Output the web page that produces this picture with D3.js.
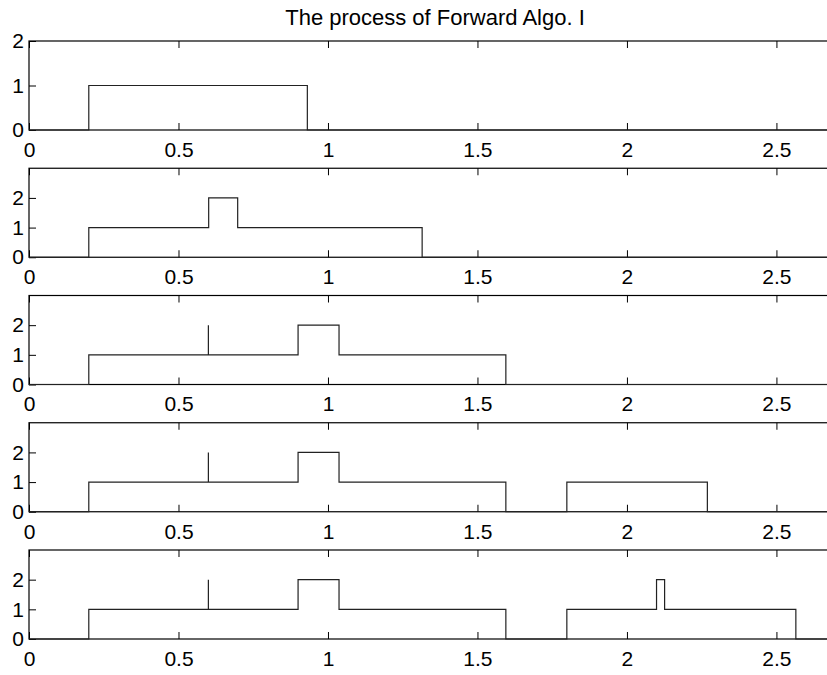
<!DOCTYPE html>
<html>
<head>
<meta charset="utf-8">
<script src="https://cdn.jsdelivr.net/npm/d3@7"></script>
<style>
  body { margin: 0; background: #fff; }
  svg { display: block; overflow: hidden; }
  text { font-family: "Liberation Sans", Arial, sans-serif; fill: #000; }
</style>
</head>
<body>
<div id="chart"></div>
<script>
// chart text and ticks
const titleText = "The process of Forward Algo. I";
const xTicks = [0, 0.5, 1, 1.5, 2, 2.5];
const xMax = 2.716;
const yMaxes = [2, 3, 3, 3, 3];
const yTicks = [[0, 1, 2], [0, 1, 2], [0, 1, 2], [0, 1, 2], [0, 1, 2]];

// step breakpoints (x where level starts) and levels for each subplot
const edges1 = [0, 0.2, 0.931, 2.716];
const levels1 = [0, 1, 0, 0];
const edges2 = [0, 0.2, 0.601, 0.698, 1.315, 2.716];
const levels2 = [0, 1, 2, 1, 0, 0];
const edges3 = [0, 0.2, 0.6, 0.6, 0.9, 1.037, 1.595, 2.716];
const levels3 = [0, 1, 2, 1, 2, 1, 0, 0];
const edges4 = [0, 0.2, 0.6, 0.6, 0.9, 1.037, 1.595, 1.799, 2.269, 2.716];
const levels4 = [0, 1, 2, 1, 2, 1, 0, 1, 0, 0];
const edges5 = [0, 0.2, 0.6, 0.6, 0.9, 1.037, 1.595, 1.799, 2.099, 2.126, 2.565, 2.716];
const levels5 = [0, 1, 2, 1, 2, 1, 0, 1, 2, 1, 0, 0];

const allEdges = [edges1, edges2, edges3, edges4, edges5];
const allLevels = [levels1, levels2, levels3, levels4, levels5];

// layout
const W = 827, H = 675;
const left = 29, right = 841;
const firstTop = 41, step = 127.25, panelH = 89;
const tickLen = 7;

const svg = d3.select("#chart")
    .append("svg")
    .attr("width", W)
    .attr("height", H);

const x = d3.scaleLinear()
    .domain([0, xMax])
    .range([left, right]);

// title
svg.append("text")
    .attr("x", (left + right) / 2)
    .attr("y", 25)
    .attr("text-anchor", "middle")
    .style("font-size", "22px")
    .text(titleText);

allEdges.forEach(function (edges, i) {
    const top = firstTop + i * step;
    const y = d3.scaleLinear()
        .domain([0, yMaxes[i]])
        .range([top + panelH, top]);

    const g = svg.append("g");

    // axes box
    g.append("rect")
        .attr("x", left)
        .attr("y", top)
        .attr("width", right - left)
        .attr("height", panelH)
        .attr("fill", "none")
        .attr("stroke", "#000")
        .attr("stroke-width", 1.2);

    // bottom axis (inward ticks + labels)
    const xb = g.append("g")
        .attr("transform", `translate(0, ${top + panelH})`)
        .call(d3.axisBottom(x).tickValues(xTicks).tickSizeInner(-tickLen).tickSizeOuter(0).tickPadding(12)
            .tickFormat(d3.format("")));
    // top axis ticks
    const xt = g.append("g")
        .attr("transform", `translate(0, ${top})`)
        .call(d3.axisTop(x).tickValues(xTicks).tickSizeInner(-tickLen).tickSizeOuter(0).tickFormat(""));
    // left axis
    const yl = g.append("g")
        .attr("transform", `translate(${left}, 0)`)
        .call(d3.axisLeft(y).tickValues(yTicks[i]).tickSizeInner(-tickLen).tickSizeOuter(0).tickPadding(5)
            .tickFormat(d3.format("d")));

    [xb, xt, yl].forEach(function (a) {
        a.select(".domain").remove();
        a.selectAll("line").attr("stroke", "#000");
        a.selectAll("text")
            .style("font-size", "21px")
            .attr("fill", "#000");
    });

    // step line
    const pts = edges.map(function (e, k) { return [e, allLevels[i][k]]; });
    const line = d3.line()
        .x(function (d) { return x(d[0]); })
        .y(function (d) { return y(d[1]); })
        .curve(d3.curveStepAfter);

    g.append("path")
        .datum(pts)
        .attr("fill", "none")
        .attr("stroke", "#222")
        .attr("stroke-width", 1.2)
        .attr("d", line);
});
</script>
</body>
</html>
